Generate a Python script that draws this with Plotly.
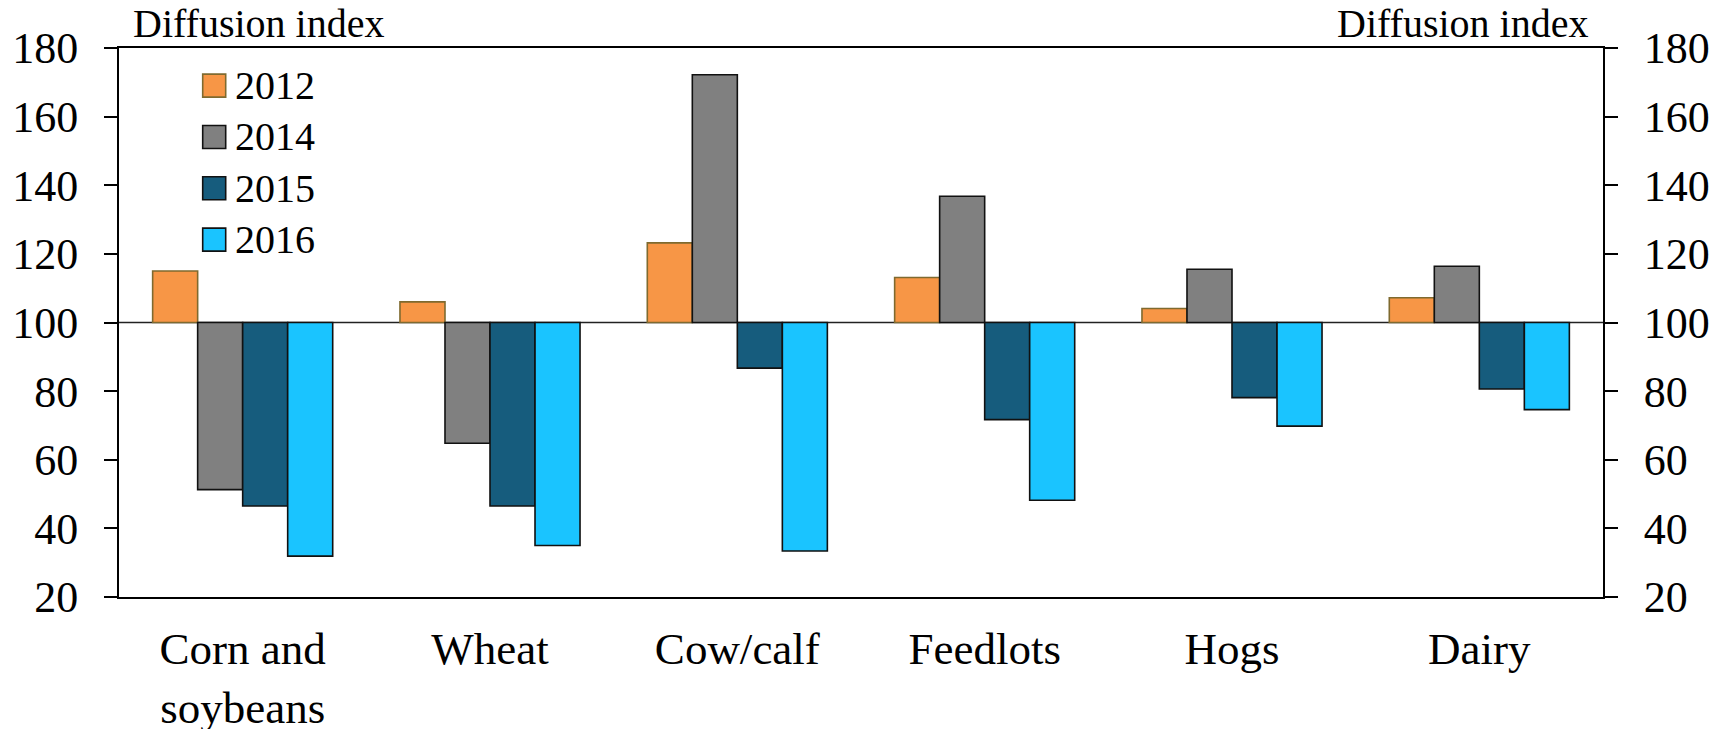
import plotly.graph_objects as go

categories = ["Corn and<br>soybeans", "Wheat", "Cow/calf", "Feedlots", "Hogs", "Dairy"]
series_names = ["2012", "2014", "2015", "2016"]
v2012 = [115.0, 106.0, 123.2, 113.1, 104.1, 107.2]
v2014 = [51.3, 64.8, 172.2, 136.8, 115.5, 116.4]
v2015 = [46.5, 46.5, 86.7, 71.7, 78.1, 80.6]
v2016 = [31.9, 35.0, 33.4, 48.2, 69.8, 74.6]
series_values = [v2012, v2014, v2015, v2016]
fill_colors = ["#F79646", "#808080", "#165C7D", "#1AC4FF"]
line_colors = ["#7F6A2F", "#111111", "#111111", "#111111"]
y_ticks = [20, 40, 60, 80, 100, 120, 140, 160, 180]
baseline = 100
axis_title = "Diffusion index"

FONT = "Liberation Serif"

fig = go.Figure()
for name, vals, fc, lc in zip(series_names, series_values, fill_colors, line_colors):
    fig.add_trace(go.Bar(
        x=categories, y=[v - baseline for v in vals], base=baseline, name=name,
        marker=dict(color=fc, line=dict(color=lc, width=1.6)),
        showlegend=False,
    ))

# invisible trace so that the right-hand axis is drawn
fig.add_trace(go.Scatter(x=categories, y=v2012, yaxis="y2", mode="none",
                         showlegend=False, hoverinfo="skip"))

# reference line at 100
fig.add_shape(type="line", xref="paper", x0=0, x1=1, yref="y", y0=baseline, y1=baseline,
              line=dict(color="#222222", width=1.4), layer="below")

# custom legend
sq_x0, sq_x1 = 0.0564, 0.0719
half = 0.02095
for i, (name, fc, lc) in enumerate(zip(series_names, fill_colors, line_colors)):
    yc = 0.9315 - i * 0.0935
    fig.add_shape(type="rect", xref="paper", yref="paper", x0=sq_x0, x1=sq_x1,
                  y0=yc - half, y1=yc + half, fillcolor=fc,
                  line=dict(color=lc, width=1.6), layer="above")
    fig.add_annotation(x=0.0767, y=yc, xref="paper", yref="paper", text=name,
                       showarrow=False, xanchor="left", yanchor="middle",
                       font=dict(family=FONT, size=40, color="black"))

fig.add_annotation(x=0.0084, y=1, xref="paper", yref="paper", text=axis_title,
                   showarrow=False, xanchor="left", yanchor="bottom",
                   font=dict(family=FONT, size=40, color="black"))
fig.add_annotation(x=0.991, y=1, xref="paper", yref="paper", text=axis_title,
                   showarrow=False, xanchor="right", yanchor="bottom",
                   font=dict(family=FONT, size=40, color="black"))

yax = dict(range=[20, 180], tickvals=y_ticks, ticks="outside", ticklen=13, tickwidth=2,
           tickcolor="black", showline=True, linecolor="black", linewidth=2,
           showgrid=False, zeroline=False, automargin=False,
           tickfont=dict(family=FONT, size=44, color="black"), ticklabelstandoff=17)

fig.update_layout(
    width=1727, height=729,
    margin=dict(l=111, r=132, t=40, b=140, autoexpand=False),
    paper_bgcolor="white", plot_bgcolor="white",
    barmode="group", bargap=0.272, bargroupgap=0,
    font=dict(family=FONT, color="black"),
    xaxis=dict(showline=True, linecolor="black", linewidth=2, mirror=True, ticks="",
               showgrid=False, automargin=False,
               tickfont=dict(family=FONT, size=45, color="black"),
               ticklabelstandoff=11),
    yaxis=yax,
    yaxis2=dict(yax, overlaying="y", side="right", anchor="x", ticklabelstandoff=17),
)

fig.write_html("out.html")
